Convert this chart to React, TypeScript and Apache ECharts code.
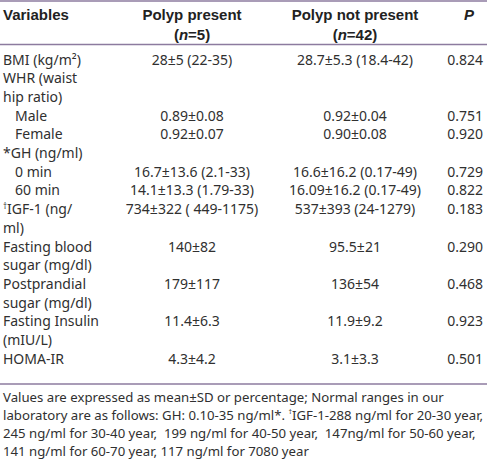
import React, { useEffect, useRef } from "react";
import * as echarts from "echarts";

const headers = ["Variables", "Polyp present", "Polyp not present", "P"];
const headerSub = ["", "(n=5)", "(n=42)", ""];

const variableLabels: string[][] = [
  ["BMI (kg/m²)"],
  ["WHR (waist", "hip ratio)"],
  ["Male"],
  ["Female"],
  ["*GH (ng/ml)"],
  ["0 min"],
  ["60 min"],
  ["{sup|†}IGF-1 (ng/", "ml)"],
  ["Fasting blood", "sugar (mg/dl)"],
  ["Postprandial", "sugar (mg/dl)"],
  ["Fasting Insulin", "(mIU/L)"],
  ["HOMA-IR"],
];
const indented = [false, false, true, true, false, true, true, false, false, false, false, false];
const polypPresent = ["28±5 (22-35)", "", "0.89±0.08", "0.92±0.07", "", "16.7±13.6 (2.1-33)", "14.1±13.3 (1.79-33)", "734±322 ( 449-1175)", "140±82", "179±117", "11.4±6.3", "4.3±4.2"];
const polypNotPresent = ["28.7±5.3 (18.4-42)", "", "0.92±0.04", "0.90±0.08", "", "16.6±16.2 (0.17-49)", "16.09±16.2 (0.17-49)", "537±393 (24-1279)", "95.5±21", "136±54", "11.9±9.2", "3.1±3.3"];
const pValues = ["0.824", "", "0.751", "0.920", "", "0.729", "0.822", "0.183", "0.290", "0.468", "0.923", "0.501"];

const footnote = [
  "Values are expressed as mean±SD or percentage; Normal ranges in our",
  "laboratory are as follows: GH: 0.10-35 ng/ml*. {sup|†}IGF-1-288 ng/ml for 20-30 year,",
  "245 ng/ml for 30-40 year,  199 ng/ml for 40-50 year,  147ng/ml for 50-60 year,",
  "141 ng/ml for 60-70 year, 117 ng/ml for 7080 year",
];

export default function App() {
  const ref = useRef<HTMLDivElement>(null);
  useEffect(() => {
    if (!ref.current) return;
    const chart = echarts.init(ref.current, undefined, { renderer: "svg" });
    const W = 487;
    const lineColor = "#8c7b9f";
    const textColor = "#303030";
    const bodyFont = "'Noto Sans', sans-serif";
    const headFont = "'Liberation Sans', Arial, sans-serif";
    const colX = [3, 192, 355, 469];
    const pRight = 483;
    const firstY = 59;
    const lh = 18.7;
    const rich = { sup: { fontSize: 8, verticalAlign: "top", padding: [0, 0, 5, 0], fill: textColor, fontFamily: bodyFont } };

    const els: any[] = [];
    const line = (y: number) =>
      els.push({ type: "line", shape: { x1: 0, y1: y, x2: W, y2: y }, style: { stroke: lineColor, lineWidth: 1.5 } });
    line(1);
    line(44.5);
    line(384);

    headers.forEach((h, i) => {
      els.push({
        type: "text",
        x: colX[i],
        y: 14,
        style: {
          text: h,
          fontSize: 15,
          fontWeight: "bold",
          fontStyle: i === 3 ? "italic" : "normal",
          fontFamily: headFont,
          fill: "#222",
          align: i === 0 ? "left" : "center",
          verticalAlign: "middle",
        },
      });
      if (headerSub[i]) {
        const n = headerSub[i].replace("(n=", "").replace(")", "");
        els.push({
          type: "text",
          x: colX[i],
          y: 34,
          style: {
            text: "({it|n}=" + n + ")",
            fontSize: 15,
            fontWeight: "bold",
            fontFamily: headFont,
            fill: "#222",
            align: "center",
            verticalAlign: "middle",
            rich: { it: { fontSize: 15, fontWeight: "bold", fontStyle: "italic", fontFamily: headFont, fill: "#222" } },
          },
        });
      }
    });

    let li = 0;
    variableLabels.forEach((lab, r) => {
      const y0 = firstY + li * lh;
      lab.forEach((t, k) => {
        els.push({
          type: "text",
          x: indented[r] ? 15 : colX[0],
          y: firstY + (li + k) * lh,
          style: { text: t, fontSize: 14, fontFamily: bodyFont, fill: textColor, align: "left", verticalAlign: "middle", rich },
        });
      });
      const vals = [polypPresent[r], polypNotPresent[r]];
      vals.forEach((v, c) => {
        if (!v) return;
        els.push({
          type: "text",
          x: colX[c + 1],
          y: y0,
          style: { text: v, fontSize: 14, fontFamily: bodyFont, fill: textColor, align: "center", verticalAlign: "middle" },
        });
      });
      if (pValues[r]) {
        els.push({
          type: "text",
          x: pRight,
          y: y0,
          style: { text: pValues[r], fontSize: 14, fontFamily: bodyFont, fill: textColor, align: "right", verticalAlign: "middle" },
        });
      }
      li += lab.length;
    });

    footnote.forEach((t, i) => {
      els.push({
        type: "text",
        x: 3,
        y: 396.5 + i * 18.2,
        style: {
          text: t,
          fontSize: 13.2,
          lineHeight: 14,
          fontFamily: bodyFont,
          fill: textColor,
          align: "left",
          verticalAlign: "middle",
          rich: { sup: { ...rich.sup, fontSize: 7, lineHeight: 14 } },
        },
      });
    });

    chart.setOption({ animation: false, backgroundColor: "#ffffff", graphic: { elements: els } });
    return () => chart.dispose();
  }, []);
  return <div ref={ref} style={{ position: "fixed", left: 0, top: 0, width: 487, height: 459 }} />;
}
